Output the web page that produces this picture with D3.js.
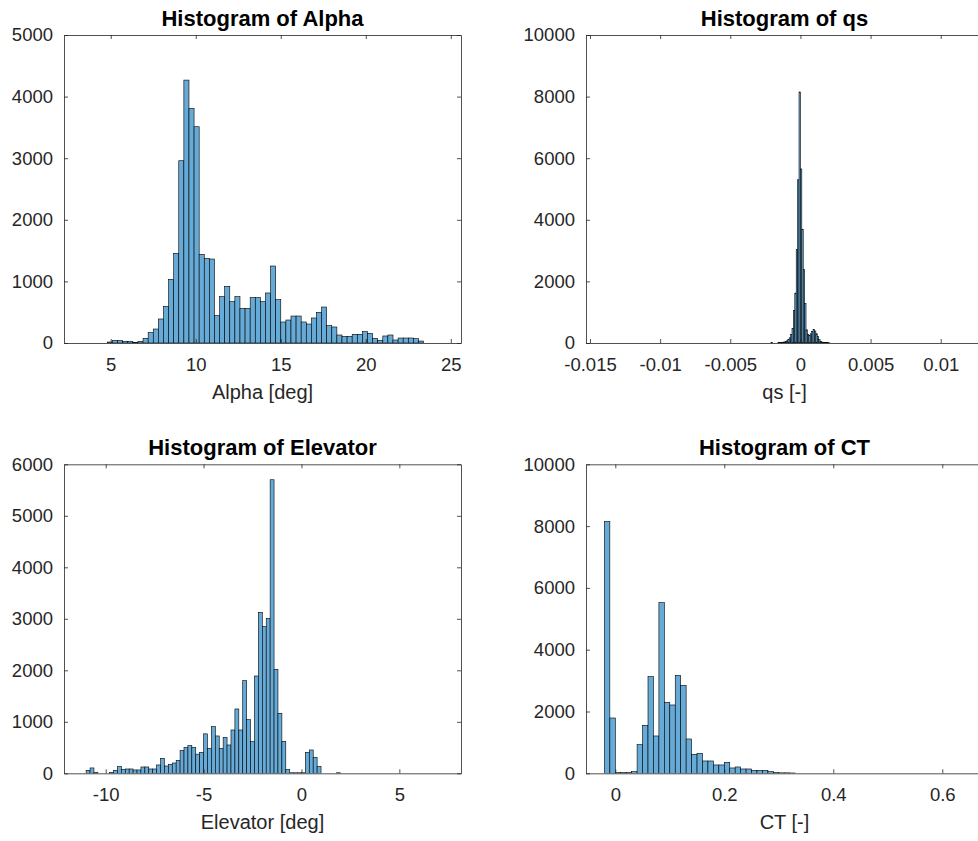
<!DOCTYPE html>
<html><head><meta charset="utf-8">
<script src="https://cdn.jsdelivr.net/npm/d3@7"></script>
<style>
body{margin:0;background:#fff;}
svg{display:block;font-family:"Liberation Sans",Arial,Helvetica,sans-serif;}
</style></head><body>
<svg id="chart" width="978" height="841"></svg>
<script>
// ---------- DATA ----------
const alphaStart = 4.8, alphaBinWidth = 0.3;
const alphaCounts = [16,43,43,27,27,11,27,76,168,227,390,595,1033,1455,2959,4268,3808,3511,1439,1374,1363,444,752,920,671,752,563,563,736,736,671,812,
  1250,703,341,373,438,438,341,308,406,498,584,281,260,130,108,108,141,141,184,157,76,43,114,130,49,81,81,81,70,32];
const alphaXTicks = [5,10,15,20,25];
const alphaYTicks = [0,1000,2000,3000,4000,5000];

const qsStart = -0.0021, qsBinWidth = 0.0001;
const qsCounts = [15,0,0,0,0,15,20,20,25,30,45,70,110,170,280,465,1060,1620,3030,5300,8150,5650,3680,2380,1280,430,270,250,300,380,440,390,300,216,108,50,30,20,15,10,10,5];
const qsXTicks = [-0.015,-0.01,-0.005,0,0.005,0.01];
const qsXTickLabels = ["-0.015","-0.01","-0.005","0","0.005","0.01"];
const qsYTicks = [0,2000,4000,6000,8000,10000];

const elevStart = -11, elevBinWidth = 0.2;
const elevCounts = [58,104,19,0,0,0,19,58,129,78,84,84,65,65,123,123,84,84,162,291,142,175,200,252,440,498,537,498,372,408,
  766,485,906,725,485,699,550,841,1249,841,1799,1042,615,1889,3125,2847,3009,5700,2019,1165,621,71,10,10,10,10,408,453,311,136,0,0,0,0,10];
const elevXTicks = [-10,-5,0,5];
const elevYTicks = [0,1000,2000,3000,4000,5000,6000];

const ctStart = -0.02, ctBinWidth = 0.01;
const ctCounts = [8150,1790,25,25,25,54,928,1553,3128,1208,5523,2297,2211,3171,2848,1111,615,647,399,399,270,270,356,173,205,140,140,97,97,97,54,22,15,15,10];
const ctXTicks = [0,0.2,0.4,0.6];
const ctYTicks = [0,2000,4000,6000,8000,10000];

// ---------- LAYOUT ----------
const panels = [
  {title:"Histogram of Alpha", xlabel:"Alpha [deg]", start:alphaStart, bw:alphaBinWidth, counts:alphaCounts,
   xd:[2.25,25.6], xt:alphaXTicks, xtl:alphaXTicks.map(String), yMax:5000, yt:alphaYTicks, x0:64, x1:461, y0:35, y1:343},
  {title:"Histogram of qs", xlabel:"qs [-]", start:qsStart, bw:qsBinWidth, counts:qsCounts,
   xd:[-0.015285,0.013015], xt:qsXTicks, xtl:qsXTickLabels, yMax:10000, yt:qsYTicks, x0:586, x1:983, y0:35, y1:343},
  {title:"Histogram of Elevator", xlabel:"Elevator [deg]", start:elevStart, bw:elevBinWidth, counts:elevCounts,
   xd:[-12.13,8.15], xt:elevXTicks, xtl:elevXTicks.map(String), yMax:6000, yt:elevYTicks, x0:64, x1:461, y0:464.3, y1:773.3},
  {title:"Histogram of CT", xlabel:"CT [-]", start:ctStart, bw:ctBinWidth, counts:ctCounts,
   xd:[-0.05376,0.6747], xt:ctXTicks, xtl:ctXTicks.map(String), yMax:10000, yt:ctYTicks, x0:586, x1:983, y0:464.3, y1:773.3}
];

const svg = d3.select("#chart");
const axisColor = "#262626";
const tickLen = 4;

panels.forEach(p => {
  const xs = d3.scaleLinear().domain(p.xd).range([p.x0, p.x1]);
  const ys = d3.scaleLinear().domain([0, p.yMax]).range([p.y1, p.y0]);
  const g = svg.append("g");

  const clipId = "clip" + p.x0 + "_" + Math.round(p.y0);
  g.append("clipPath").attr("id", clipId).append("rect")
    .attr("x", p.x0).attr("y", p.y0).attr("width", p.x1 - p.x0).attr("height", p.y1 - p.y0);

  // bars
  g.append("g").attr("clip-path", `url(#${clipId})`)
    .selectAll("rect").data(p.counts).join("rect")
    .attr("x", (d,i) => xs(p.start + i*p.bw))
    .attr("width", (d,i) => xs(p.start + (i+1)*p.bw) - xs(p.start + i*p.bw))
    .attr("y", d => ys(d))
    .attr("height", d => ys(0) - ys(d))
    .attr("fill", "#66aad7")
    .attr("stroke", "#000")
    .attr("stroke-width", 0.6);

  const xAxisB = d3.axisBottom(xs).tickValues(p.xt).tickFormat((d,i) => p.xtl[i]).tickSizeInner(-tickLen).tickSizeOuter(0).tickPadding(15);
  const gb = g.append("g").attr("transform", `translate(0,${p.y1})`).call(xAxisB);
  const xAxisT = d3.axisTop(xs).tickValues(p.xt).tickFormat("").tickSizeInner(-tickLen).tickSizeOuter(0);
  const gt = g.append("g").attr("transform", `translate(0,${p.y0})`).call(xAxisT);
  const yAxisL = d3.axisLeft(ys).tickValues(p.yt).tickFormat(d3.format("d")).tickSizeInner(-tickLen).tickSizeOuter(0).tickPadding(11);
  const gl = g.append("g").attr("transform", `translate(${p.x0},0)`).call(yAxisL);
  const yAxisR = d3.axisRight(ys).tickValues(p.yt).tickFormat("").tickSizeInner(-tickLen).tickSizeOuter(0);
  const gr = g.append("g").attr("transform", `translate(${p.x1},0)`).call(yAxisR);

  [gb,gt,gl,gr].forEach(a => {
    a.select(".domain").attr("stroke", axisColor).attr("stroke-width", 0.8);
    a.selectAll(".tick line").attr("stroke", axisColor).attr("stroke-width", 0.8);
    a.selectAll(".tick text").attr("fill", axisColor).style("font-size", "18.5px")
      .style("font-family", '"Liberation Sans",Arial,Helvetica,sans-serif');
  });

  g.append("text").attr("x", (p.x0 + p.x1)/2).attr("y", p.y0 - 9)
    .attr("text-anchor", "middle").attr("font-weight", "bold").attr("font-size", "22px")
    .attr("fill", "#000").text(p.title);
  g.append("text").attr("x", (p.x0 + p.x1)/2).attr("y", p.y1 + 56)
    .attr("text-anchor", "middle").attr("font-size", "20px")
    .attr("fill", axisColor).text(p.xlabel);
});
</script>
</body></html>
